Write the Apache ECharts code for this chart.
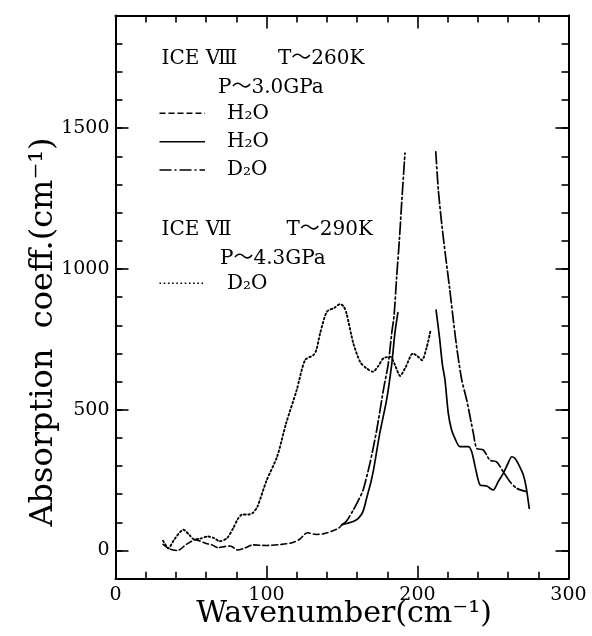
<!DOCTYPE html>
<html>
<head>
<meta charset="utf-8">
<script src="https://cdn.jsdelivr.net/npm/echarts@6/dist/echarts.min.js"></script>
<style>html,body{margin:0;padding:0;background:#fff;}#c{width:592px;height:636px;}</style>
</head>
<body>
<div id="c"></div>
<script>
// ---- axis settings ----
const xTicks = [0, 100, 200, 300];
const yTicks = [0, 500, 1000, 1500];

// ---- ICE VIII, H2O (dashed) ----
const iceVIII_H2O_dashed = [
  [31.5,22],[36,5],[41,0],[47,22],[53,38],[60,25],[64,20],[68,10],[72,14],[76,16],
  [81,2],[86,10],[91,20],[100,18],[110,22],[117,28],[122,40],[127,63],[133,57],
  [138,60],[144,70],[148,80],[150,92]
];
// ---- ICE VIII, H2O (solid) ----
const iceVIII_H2O_solid_low = [
  [150,92],[153,96],[157,102],[161,115],[164,140],[166.5,190],[169,240],[171,290],
  [175,416],[179.5,534],[183,665],[185,771],[187,845]
];
const iceVIII_H2O_solid_high = [
  [212.3,854],[214.5,760],[216.5,660],[218.2,606],[220.4,487],[222.5,430],[224.8,398],
  [228.1,369],[233.6,369],[235.9,351],[238.5,290],[241.4,233],[245.8,229],[250.2,215],
  [253.5,245],[256.8,274],[260,310],[262.4,333],[264.6,327],[267.5,300],[270.1,268],
  [271.9,227],[274,150]
];
// ---- ICE VIII, D2O (dash-dot) ----
const iceVIII_D2O_low = [
  [150,92],[153,105],[157.5,144],[161,180],[164,215],[168.5,310],[173,428],[177.4,570],
  [180.7,665],[182.9,771],[184.5,835],[186.2,972],[188,1103],[189.5,1233],[191.7,1411]
];
const iceVIII_D2O_high = [
  [212.1,1416],[213.8,1280],[216,1162],[218.6,1045],[221.3,930],[223.9,810],[226.4,705],
  [229.3,606],[232.6,534],[237,416],[239.2,363],[243.6,357],[248,321],[252.4,315],
  [256.8,280],[261.3,244],[265.7,221],[272.3,209]
];
// ---- ICE VII, D2O (dotted) ----
const iceVII_D2O = [
  [31.5,35],[35,8],[39,40],[45,74],[49,55],[52,40],[56,42],[61,50],[65,45],[69,33],
  [74,45],[78,80],[81,112],[84,128],[88,128],[91,134],[94,156],[100,248],[107,333],
  [113,452],[120,570],[125.5,676],[131,694],[133,712],[135.5,771],[140,848],[145,862],
  [148.5,875],[151,868],[153,842],[157.5,736],[162,670],[166,648],[170.5,635],[174,655],
  [177.5,683],[182,688],[185,660],[188.5,620],[192,650],[197,700],[200,690],[203,676],
  [206,720],[208.5,777]
];

const chart = echarts.init(document.getElementById('c'), null, {renderer: 'canvas'});
const BLK = '#000';
const tickFont = 'DejaVu Serif';
const LEFT = 115.5, RIGHT = 23.5, TOP = 15.5, BOTTOM = 57.3;
const plain = function (v) { return String(v); };

function xAx(pos, labels) {
  return {
    type: 'value', min: 0, max: 300, interval: 100, position: pos,
    axisLine: {show: true, onZero: false, lineStyle: {color: BLK, width: 2}},
    axisTick: {show: true, inside: true, length: 13, lineStyle: {color: BLK, width: 1.6}},
    minorTick: {show: true, splitNumber: 5, length: 7, lineStyle: {color: BLK, width: 1.6}},
    axisLabel: {show: labels, color: BLK, fontFamily: tickFont, fontSize: 19, margin: 7,
      customValues: xTicks, formatter: plain},
    splitLine: {show: false}, minorSplitLine: {show: false}
  };
}
function yMajor(pos, labels) {
  return {
    type: 'value', min: -100, max: 1900, position: pos,
    axisLine: {show: true, onZero: false, lineStyle: {color: BLK, width: 2}},
    axisTick: {show: true, inside: true, length: 13, customValues: yTicks,
      lineStyle: {color: BLK, width: 1.6}},
    axisLabel: {show: labels, color: BLK, fontFamily: tickFont, fontSize: 19, margin: 6,
      customValues: yTicks, formatter: plain},
    splitLine: {show: false}
  };
}
function yMinor(pos) {
  return {
    type: 'value', min: -100, max: 1900, interval: 100, position: pos,
    axisLine: {show: false, onZero: false},
    axisTick: {show: true, inside: true, length: 7, lineStyle: {color: BLK, width: 1.6}},
    axisLabel: {show: false}, splitLine: {show: false}
  };
}

function lineSeries(data, type, width) {
  return {
    type: 'line', data: data, xAxisIndex: 0, yAxisIndex: 0,
    showSymbol: false, symbol: 'none', smooth: 0.25, silent: true,
    lineStyle: {color: BLK, width: width, type: type, cap: 'round'}
  };
}

const legendFont = '20px "DejaVu Serif", "Noto Sans CJK JP"';
function txt(x, y, s, font, align) {
  return {
    type: 'text', x: x, y: y, silent: true,
    style: {text: s, font: font || legendFont, fill: BLK,
      align: align || 'left', textAlign: align || 'left',
      verticalAlign: 'middle', textVerticalAlign: 'middle'}
  };
}
function seg(y, dash) {
  return {
    type: 'line', silent: true,
    shape: {x1: 159.5, y1: y, x2: 205, y2: y},
    style: {stroke: BLK, lineWidth: 1.6, lineDash: dash}
  };
}

const dashDash = [6, 3];
const dashDot = [12, 3, 2, 3];
const dotDot = [1.6, 2.6];

const yName = txt(44, 332, 'Absorption  coeff.(cm⁻¹)', '32px "DejaVu Serif"', 'center');
yName.rotation = Math.PI / 2;

chart.setOption({
  animation: false,
  backgroundColor: '#fff',
  grid: {left: LEFT, right: RIGHT, top: TOP, bottom: BOTTOM, containLabel: false},
  xAxis: [xAx('bottom', true), xAx('top', false)],
  yAxis: [yMajor('left', true), yMinor('left'), yMajor('right', false), yMinor('right')],
  series: [
    lineSeries(iceVIII_H2O_dashed, dashDash, 1.6),
    lineSeries(iceVIII_H2O_solid_low, 'solid', 1.7),
    lineSeries(iceVIII_H2O_solid_high, 'solid', 1.7),
    lineSeries(iceVIII_D2O_low, dashDot, 1.7),
    lineSeries(iceVIII_D2O_high, dashDot, 1.7),
    lineSeries(iceVII_D2O, dotDot, 1.9)
  ],
  graphic: [
    txt(161.5, 59, 'ICE Ⅷ'),
    txt(278, 59, 'T～260K'),
    txt(218, 88, 'P～3.0GPa'),
    seg(113.3, dashDash), txt(227, 113.3, 'H₂O'),
    seg(141.7, null), txt(227, 141.7, 'H₂O'),
    seg(170, dashDot), txt(227, 170, 'D₂O'),
    txt(161.5, 230, 'ICE Ⅶ'),
    txt(286.5, 230, 'T～290K'),
    txt(220, 258.3, 'P～4.3GPa'),
    seg(283.3, dotDot), txt(227, 283.3, 'D₂O'),
    txt(344, 614, 'Wavenumber(cm⁻¹)', '30px "DejaVu Serif"', 'center'),
    yName
  ]
});
</script>
</body>
</html>
